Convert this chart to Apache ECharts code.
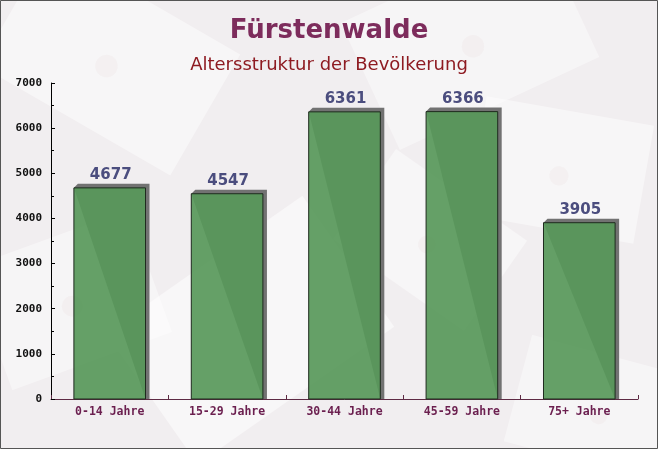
<!DOCTYPE html>
<html>
<head>
<meta charset="utf-8">
<script src="https://cdn.jsdelivr.net/npm/echarts@6/dist/echarts.min.js"></script>
<style>html,body{margin:0;padding:0;background:#f3f0f2;}#c{width:658px;height:449px;}</style>
</head>
<body>
<div id="c"></div>
<script>
var categories = ['0-14 Jahre', '15-29 Jahre', '30-44 Jahre', '45-59 Jahre', '75+ Jahre'];
var values = [4677, 4547, 6361, 6366, 3905];
var titleText = 'Fürstenwalde';
var subtitleText = 'Altersstruktur der Bevölkerung';

var chart = echarts.init(document.getElementById('c'), null, {renderer: 'canvas'});

function env(x, y, w, h, rot, op) {
  return {
    type: 'group', x: x, y: y, rotation: rot * Math.PI / 180, silent: true, z: -10,
    children: [
      {type: 'rect', shape: {x: -w / 2, y: -h / 2, width: w, height: h}, style: {fill: 'rgba(255,255,255,' + op + ')'}},
      {type: 'circle', shape: {cx: 0, cy: h * 0.05, r: Math.min(w, h) * 0.08}, style: {fill: 'rgba(225,205,210,0.15)'}}
    ]
  };
}

var option = {
  backgroundColor: '#f1eef0',
  animation: false,
  graphic: [
    env(110, 60, 220, 140, -30, 0.45),
    env(470, 40, 220, 140, 25, 0.4),
    env(250, 330, 240, 160, 35, 0.5),
    env(560, 170, 170, 120, -10, 0.45),
    env(70, 300, 170, 130, 20, 0.4),
    env(430, 240, 160, 110, -35, 0.45),
    env(600, 410, 170, 110, -15, 0.4),
    {type: 'rect', shape: {x: 0.5, y: 0.5, width: 657, height: 448}, style: {fill: null, stroke: '#555', lineWidth: 1}, silent: true, z: 100}
  ],
  title: [
    {text: titleText, left: 'center', top: 13, textStyle: {fontFamily: 'DejaVu Sans', fontWeight: 'bold', fontSize: 26, color: '#7d2c5c'}},
    {text: subtitleText, left: 'center', top: 51, textStyle: {fontFamily: 'DejaVu Sans', fontWeight: 'normal', fontSize: 18, color: '#8e1b22'}}
  ],
  grid: {left: 51, right: 20, top: 83, bottom: 50, containLabel: false},
  xAxis: {
    type: 'category',
    data: categories,
    axisLine: {lineStyle: {color: '#5e2a44', width: 1}},
    axisTick: {show: true, inside: true, length: 4, alignWithLabel: false, lineStyle: {color: '#5e2a44'}},
    axisLabel: {fontFamily: 'DejaVu Sans Mono', fontSize: 11.5, fontWeight: 'bold', color: '#6b1f4f', margin: 7},
    splitLine: {show: false}
  },
  yAxis: {
    type: 'value',
    min: 0, max: 7000, interval: 1000,
    axisLine: {show: true, lineStyle: {color: '#000', width: 1}},
    axisTick: {show: true, inside: true, length: 4, lineStyle: {color: '#000'}},
    minorTick: {show: true, splitNumber: 2, length: 3, lineStyle: {color: '#000'}},
    axisLabel: {fontFamily: 'DejaVu Sans Mono', fontSize: 11, fontWeight: 'bold', color: '#111', margin: 9,
      formatter: function (v) { return String(v); }},
    splitLine: {show: false}
  },
  series: [{
    type: 'custom',
    renderItem: function (params, api) {
      var v = api.value(1);
      var top = api.coord([api.value(0), v]);
      var base = api.coord([api.value(0), 0]);
      var bw = api.size([1, 0])[0] * 0.61;
      var x0 = top[0] - bw / 2, x1 = top[0] + bw / 2;
      var d = 4;
      return {
        type: 'group',
        children: [
          {type: 'polygon', shape: {points: [[x0, top[1]], [x0 + d, top[1] - d], [x1 + d, top[1] - d], [x1 + d, base[1]], [x1, base[1]]]},
            style: {fill: '#727272'}},
          {type: 'rect', shape: {x: x0, y: top[1], width: bw, height: base[1] - top[1]},
            style: {fill: 'rgba(88,152,90,0.92)', stroke: '#1e2a1e', lineWidth: 1}},
          {type: 'text', x: top[0] + 1, y: top[1] - d - 1,
            style: {text: String(v), fontFamily: 'DejaVu Sans', fontWeight: 'bold', fontSize: 15, fill: '#4b4d7e', align: 'center', verticalAlign: 'bottom'}}
        ]
      };
    },
    encode: {x: 0, y: 1}
  }]
};
option.series[0].data = values.map(function (v, i) { return [i, v]; });
chart.setOption(option);
</script>
</body>
</html>
